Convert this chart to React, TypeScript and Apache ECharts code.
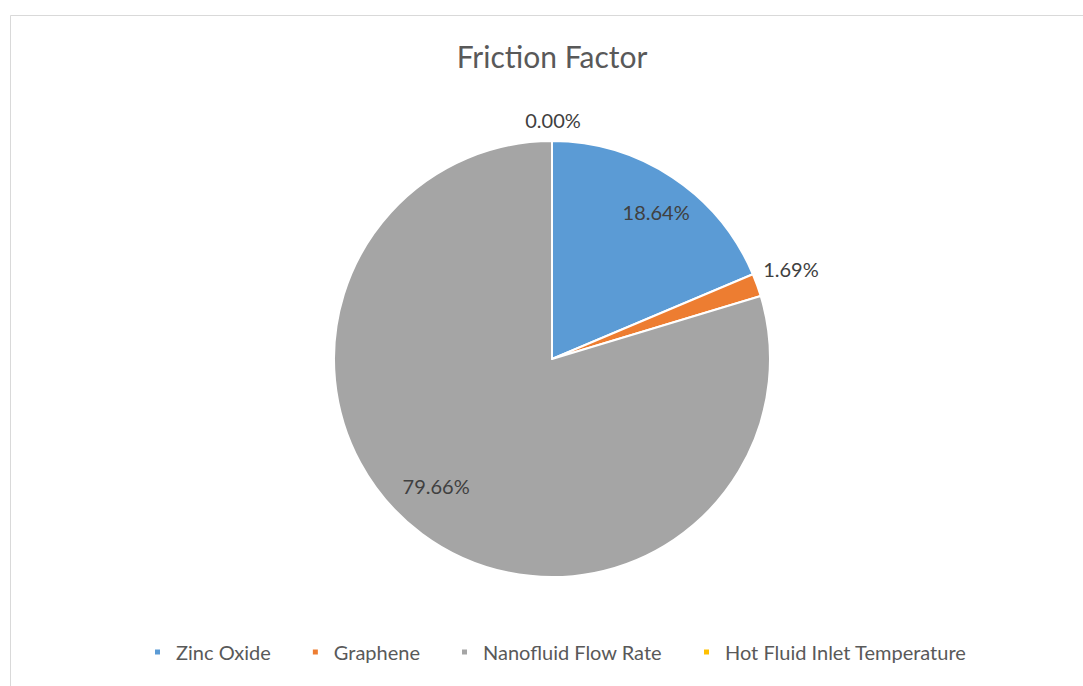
import React, { useEffect, useRef } from "react";
import * as echarts from "echarts";

const categories = ["Zinc Oxide", "Graphene", "Nanofluid Flow Rate", "Hot Fluid Inlet Temperature"];
const values = [22, 2, 94, 0];
const colors = ["#5B9BD5", "#ED7D31", "#A5A5A5", "#FFC000"];
const titleText = "Friction Factor";

const FONT = "Lato";

export default function App() {
  const ref = useRef<HTMLDivElement>(null);
  useEffect(() => {
    if (!ref.current) return;
    const chart = echarts.init(ref.current, undefined, { renderer: "svg" });
    const total = values.reduce((a, b) => a + b, 0);
    const pct = (v: number) => ((v / total) * 100).toFixed(2) + "%";
    const center = [552, 359];
    const R = 218;
    const labelOffsets: Record<string, number[]> = {
      "Zinc Oxide": [6, 1],
      "Graphene": [72, -30],
      "Nanofluid Flow Rate": [-10, -15],
      "Hot Fluid Inlet Temperature": [1, -62],
    };
    const option: any = {
      animation: false,
      backgroundColor: "#ffffff",
      title: {
        text: titleText,
        left: 547,
        top: 36,
        textAlign: "center",
        textStyle: { fontFamily: FONT, fontSize: 30, fontWeight: "normal", color: "#595959" },
      },
      legend: {
        bottom: 24,
        left: 153,
        padding: 0,
        icon: "rect",
        itemWidth: 7,
        itemHeight: 7,
        itemGap: 40,
        textStyle: { fontFamily: FONT, fontSize: 20, color: "#595959", padding: [0, 0, 0, 10] },
        data: categories.map((c, i) => ({ name: c, itemStyle: { color: colors[i] } })),
      },
      graphic: [
        {
          type: "rect",
          shape: { x: 10.5, y: 15.5, width: 1200, height: 900 },
          style: { fill: "none", stroke: "#d9d9d9", lineWidth: 1 },
          silent: true,
          z: -10,
        },
      ],
      series: [
        {
          type: "pie",
          center,
          radius: [0, R],
          startAngle: 90,
          clockwise: true,
          avoidLabelOverlap: false,
          label: { show: false },
          labelLine: { show: false },
          itemStyle: { borderColor: "#ffffff", borderWidth: 2 },
          emphasis: { disabled: true },
          data: categories.map((c, i) => ({ name: c, value: values[i], itemStyle: { color: colors[i] } })),
        },
        {
          type: "pie",
          center,
          radius: [131, R],
          startAngle: 90,
          clockwise: true,
          silent: true,
          legendHoverLink: false,
          avoidLabelOverlap: false,
          labelLine: { show: false },
          itemStyle: { color: "rgba(0,0,0,0)", borderWidth: 0 },
          emphasis: { disabled: true },
          label: {
            show: true,
            position: "inside",
            fontFamily: FONT,
            fontSize: 20,
            color: "#404040",
            formatter: (p: any) => pct(p.value),
          },
          data: categories.map((c, i) => ({
            name: c,
            value: values[i],
            label: { offset: labelOffsets[c] },
          })),
        },
      ],
    };
    chart.setOption(option);
    return () => chart.dispose();
  }, []);
  return (
    <div
      ref={ref}
      style={{ position: "fixed", left: 0, top: 0, width: 1083, height: 686, background: "#fff" }}
    />
  );
}
